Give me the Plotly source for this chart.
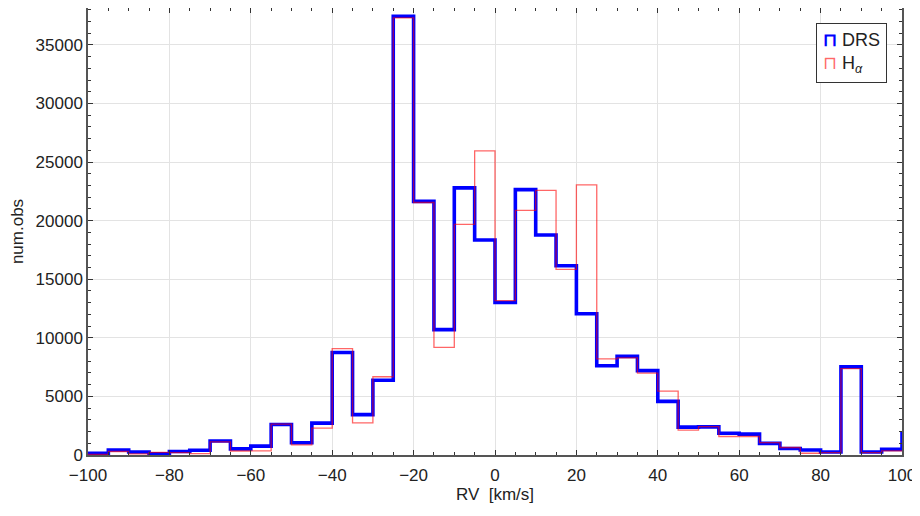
import plotly.graph_objects as go

# bin edges (km/s), 5 km/s wide; last bin continues past the axis range
bin_start = -100
bin_width = 5
drs_counts = [150, 430, 260, 110, 300, 400, 1200, 520, 760, 2600, 1050, 2720,
              8750, 3450, 6380, 37450, 21650, 10700, 22800, 18350, 13020, 22650,
              18780, 16150, 12050, 7620, 8420, 7200, 4580, 2380, 2400, 1850,
              1780, 990, 560, 430, 260, 7520, 250, 480, 1870]
ha_counts = [50, 300, 100, 220, 200, 110, 1120, 340, 360, 2630, 870, 2300,
             9080, 2750, 6680, 37300, 21550, 9180, 19680, 25950, 13170, 20880,
             22580, 15850, 23050, 8200, 8290, 6980, 5450, 2120, 2420, 1580,
             1580, 1060, 640, 150, 200, 7380, 210, 350, 350]

edges_drs = [bin_start + i * bin_width for i in range(len(drs_counts) + 1)]
edges_ha = [bin_start + i * bin_width for i in range(len(ha_counts) + 1)]

FONT = "Liberation Sans"
TXT = "#222222"

fig = go.Figure()
fig.add_trace(go.Scatter(
    x=edges_drs, y=drs_counts + [drs_counts[-1]],
    mode="lines", line=dict(shape="hv", color="#0000ff", width=3.6),
    name="DRS", showlegend=False,
))
fig.add_trace(go.Scatter(
    x=edges_ha, y=ha_counts + [ha_counts[-1]],
    mode="lines", line=dict(shape="hv", color="rgba(255,0,0,0.6)", width=1.3),
    name="Hα", showlegend=False,
))

axis_common = dict(
    showline=True, linecolor="#555555", linewidth=1.5, mirror="ticks",
    ticks="inside", tickcolor="#333333", ticklen=5, tickwidth=1,
    showgrid=True, gridcolor="#e3e3e3", gridwidth=1, zeroline=False,
    tickfont=dict(family=FONT, size=17, color=TXT), automargin=False,
)

fig.update_xaxes(
    range=[-100, 100], dtick=20, tick0=0, ticklabelstandoff=4,
    minor=dict(dtick=5, ticks="inside", ticklen=3, tickcolor="#333333", showgrid=False),
    title=dict(text="RV  [km/s]", font=dict(family=FONT, size=17, color=TXT), standoff=4),
    **axis_common,
)
fig.update_yaxes(
    range=[0, 38150], dtick=5000, tick0=0, tickformat="d",
    minor=dict(dtick=1000, ticks="inside", ticklen=3, tickcolor="#333333", showgrid=False),
    title=dict(text="num.obs", font=dict(family=FONT, size=17, color=TXT), standoff=8),
    **axis_common,
)

fig.add_annotation(
    xref="paper", yref="paper", x=0.982, y=0.966, xanchor="right", yanchor="top",
    align="left", showarrow=False,
    text=("<span style='color:#0000ff'><b>⊓</b></span> DRS<br>"
          "<span style='color:rgba(255,0,0,0.6)'>⊓</span> H<sub><i>α</i></sub>"),
    font=dict(family=FONT, size=18, color=TXT),
    bordercolor="#333333", borderwidth=1, borderpad=6, bgcolor="white",
)

fig.update_layout(
    width=912, height=508,
    margin=dict(l=80, r=18, t=0, b=61),
    plot_bgcolor="white", paper_bgcolor="white",
)

fig.write_html("out.html")
